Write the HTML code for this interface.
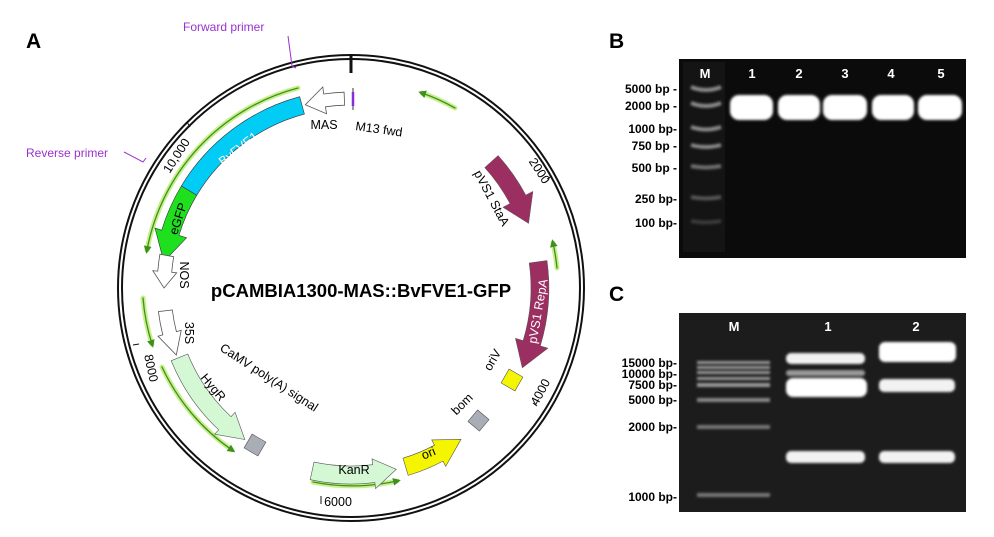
<!DOCTYPE html>
<html><head><meta charset="utf-8"><style>
html,body{margin:0;padding:0;background:#fff;}
svg{display:block;font-family:"Liberation Sans",sans-serif;}
</style></head><body>
<svg width="994" height="537" viewBox="0 0 994 537" xmlns="http://www.w3.org/2000/svg">
<defs>
<filter id="bl" x="-20%" y="-50%" width="140%" height="200%"><feGaussianBlur stdDeviation="2"/></filter>
<filter id="bl1" x="-20%" y="-50%" width="140%" height="200%"><feGaussianBlur stdDeviation="1.2"/></filter>
<marker id="ga" markerWidth="6" markerHeight="6" refX="3" refY="3" orient="auto"><path d="M0,0 L6,3 L0,6 Z" fill="#3f8f1f"/></marker>
</defs>
<rect width="994" height="537" fill="#fff"/>
<text x="26" y="48" font-size="21" font-weight="bold">A</text>
<text x="609" y="48" font-size="21" font-weight="bold">B</text>
<text x="609" y="301" font-size="21" font-weight="bold">C</text>

<circle cx="351" cy="288" r="233" fill="none" stroke="#111" stroke-width="2"/>
<circle cx="351" cy="288" r="229" fill="none" stroke="#111" stroke-width="2"/>
<line x1="351" y1="56" x2="351" y2="73" stroke="#111" stroke-width="3"/>

<text x="183" y="31" font-size="12" fill="#9b30d0">Forward primer</text>
<path d="M288,36 L292,66 L296,68" fill="none" stroke="#9b30d0" stroke-width="1"/>
<text x="26" y="157" font-size="12" fill="#9b30d0">Reverse primer</text>
<path d="M124,152 L143,162 L146,158" fill="none" stroke="#9b30d0" stroke-width="1"/>

<g fill="none" stroke-linecap="round">
<g stroke="#c6f08a" stroke-width="5">
<path d="M298,88 A207,207 0 0 0 147,250"/>
<path d="M455,108 A207,207 0 0 0 422,93"/>
<path d="M557,268 A207,207 0 0 0 553,243"/>
<path d="M143,298 A207,207 0 0 0 152,344"/>
<path d="M162,367 A207,207 0 0 0 232,450"/>
<path d="M313,482 A207,207 0 0 0 397,481"/>
</g>
<g stroke="#3f8f1f" stroke-width="1.3" marker-end="url(#ga)">
<path d="M298,88 A207,207 0 0 0 147,250"/>
<path d="M455,108 A207,207 0 0 0 422,93"/>
<path d="M557,268 A207,207 0 0 0 553,243"/>
<path d="M143,298 A207,207 0 0 0 152,344"/>
<path d="M162,367 A207,207 0 0 0 232,450"/>
<path d="M313,482 A207,207 0 0 0 397,481"/>
</g>
</g>

<path d="M299.7,96.7 A198,198 0 0 0 181.3,186 L196.7,195.3 A180,180 0 0 1 304.4,114.1 Z" fill="#00ccf5" stroke="#333" stroke-width="0.6"/>
<path d="M181.3,186 A198,198 0 0 0 161.7,230.2 L155,228.1 L163.8,261.7 L186.6,237.8 L178.9,235.4 A180,180 0 0 1 196.7,195.3 Z" fill="#1fe01f" stroke="#333" stroke-width="0.6"/>
<path d="M344.1,92.2 A196,196 0 0 0 323.7,94 L322.8,87 L305.3,104.7 L326.5,113.7 L325.5,106.8 A183,183 0 0 1 344.6,105.2 Z" fill="#fff" stroke="#555" stroke-width="0.8"/>
<line x1="353" y1="88" x2="353" y2="110" stroke="#333" stroke-width="1"/>
<line x1="353" y1="92" x2="353" y2="106" stroke="#8a2be2" stroke-width="2.5"/>
<path d="M498.1,155.5 A198,198 0 0 1 525.8,195.1 L532.9,191.4 L528.6,223.4 L502.9,207.3 L510,203.6 A180,180 0 0 0 484.7,167.6 Z" fill="#9b2f62" stroke="#555" stroke-width="0.5"/>
<path d="M547,260.5 A198,198 0 0 1 540.3,345.9 L548,348.2 L522.3,367.9 L515.4,338.3 L523.1,340.6 A180,180 0 0 0 529.2,263 Z" fill="#9b2f62" stroke="#555" stroke-width="0.5"/>
<path d="M159.9,254.2 A194,194 0 0 0 157.8,271.1 L152.8,270.7 L164,288 L176.7,272.8 L171.7,272.3 A180,180 0 0 1 173.7,256.7 Z" fill="#fff" stroke="#555" stroke-width="0.8"/>
<path d="M158.4,311.6 A194,194 0 0 0 162.8,334.9 L158,336.2 L176.3,355 L181.2,330.3 L176.4,331.6 A180,180 0 0 1 172.3,310 Z" fill="#fff" stroke="#555" stroke-width="0.8"/>
<path d="M171.2,360.7 A194,194 0 0 0 218.7,429.8 L214.6,434.2 L244.8,439.5 L235.1,412.3 L231,416.7 A176,176 0 0 1 187.8,354 Z" fill="#d4f7d4" stroke="#555" stroke-width="0.6"/>
<path d="M310.2,479.7 A196,196 0 0 0 374.9,482.6 L375.6,488.6 L396.3,469.4 L372,458.8 L372.7,464.7 A178,178 0 0 1 314,462.1 Z" fill="#d4f7d4" stroke="#555" stroke-width="0.6"/>
<path d="M408.2,475.4 A196,196 0 0 0 443,461.1 L445.7,466.4 L461,439.3 L431.7,439.9 L434.5,445.2 A178,178 0 0 1 403,458.2 Z" fill="#f5f500" stroke="#555" stroke-width="0.6"/>
<rect x="504" y="372" width="16" height="16" fill="#f5f500" stroke="#555" stroke-width="0.6" transform="rotate(30 512 380)"/>
<rect x="471" y="413" width="15" height="15" fill="#a9adb5" stroke="#555" stroke-width="0.6" transform="rotate(40 478.5 420.5)"/>
<rect x="247" y="437" width="16" height="16" fill="#a9adb5" stroke="#555" stroke-width="0.6" transform="rotate(30 255 445)"/>

<g font-size="12.5">
<text fill="#fff" transform="translate(241,152) rotate(-38)" text-anchor="middle">BvFVE1</text>
<text transform="translate(182,220) rotate(-72)" text-anchor="middle">eGFP</text>
<text transform="translate(210,390) rotate(50)" text-anchor="middle">HygR</text>
<text x="354" y="474" text-anchor="middle">KanR</text>
<text transform="translate(430,457) rotate(-22)" text-anchor="middle">ori</text>
<text fill="#fff" transform="translate(542,312) rotate(-80)" text-anchor="middle">pVS1 RepA</text>
<text transform="translate(488,200) rotate(62)" text-anchor="middle">pVS1 StaA</text>
<text x="324" y="129" text-anchor="middle">MAS</text>
<text transform="translate(355,130) rotate(8)">M13 fwd</text>
<text transform="translate(180,275) rotate(90)" text-anchor="middle">NOS</text>
<text transform="translate(185,333) rotate(90)" text-anchor="middle">35S</text>
<text transform="translate(219,350) rotate(33)">CaMV poly(A) signal</text>
<text transform="translate(496,362) rotate(-60)" text-anchor="middle">oriV</text>
<text transform="translate(465,407) rotate(-45)" text-anchor="middle">bom</text>
<text transform="translate(180,158) rotate(-57)" text-anchor="middle">10,000</text>
<text transform="translate(536,173) rotate(57)" text-anchor="middle">2000</text>
<text transform="translate(544,394) rotate(-62)" text-anchor="middle">4000</text>
<text x="338" y="506" text-anchor="middle">6000</text>
<text transform="translate(147,369) rotate(78)" text-anchor="middle">8000</text>
</g>
<g stroke="#111" stroke-width="1">
<line x1="187" y1="122" x2="190" y2="127"/>
<line x1="547" y1="179" x2="552" y2="176"/>
<line x1="533" y1="403" x2="537" y2="406"/>
<line x1="321" y1="496" x2="321" y2="504"/>
<line x1="133" y1="345" x2="139" y2="344"/>
</g>
<text x="361" y="297" font-size="18.5" font-weight="bold" text-anchor="middle">pCAMBIA1300-MAS::BvFVE1-GFP</text>

<rect x="679" y="59" width="287" height="199" fill="#0b0b0b"/>
<rect x="683" y="62" width="42" height="190" fill="#141414"/>
<g font-size="13" font-weight="bold" fill="#fff" text-anchor="middle">
<text x="705" y="78">M</text><text x="752" y="78">1</text><text x="799" y="78">2</text><text x="845" y="78">3</text><text x="891" y="78">4</text><text x="941" y="78">5</text>
</g>
<g fill="none" stroke="#8a8a8a" stroke-width="4" filter="url(#bl1)">
<path d="M691,87 Q706,93 721,87"/>
<path d="M691,103 Q706,109 721,103"/>
<path d="M691,127 Q706,132 721,127"/>
<path d="M691,145 Q706,149 721,145"/>
<path d="M691,166 Q706,169 721,166" stroke="#707070"/>
<path d="M691,197 Q706,200 721,197" stroke="#555"/>
<path d="M691,221 Q706,224 721,221" stroke="#3a3a3a"/>
</g>
<g fill="#fff" filter="url(#bl1)">
<rect x="730" y="95" width="43" height="25" rx="9"/>
<rect x="778" y="95" width="42" height="25" rx="9"/>
<rect x="823" y="95" width="44" height="25" rx="9"/>
<rect x="872" y="95" width="42" height="25" rx="9"/>
<rect x="918" y="95" width="44" height="25" rx="9"/>
</g>
<g font-size="12" font-weight="bold" text-anchor="end">
<text x="677" y="93">5000 bp -</text>
<text x="677" y="110">2000 bp -</text>
<text x="677" y="133">1000 bp-</text>
<text x="677" y="150">750 bp -</text>
<text x="677" y="172">500 bp -</text>
<text x="677" y="203">250 bp-</text>
<text x="677" y="227">100 bp-</text>
</g>

<rect x="679" y="313" width="287" height="199" fill="#1c1c1c"/>
<g font-size="13" font-weight="bold" fill="#fff" text-anchor="middle">
<text x="734" y="331">M</text><text x="828" y="331">1</text><text x="916" y="331">2</text>
</g>
<g fill="#9a9a9a" filter="url(#bl1)">
<rect x="697" y="361" width="73" height="3"/>
<rect x="697" y="366" width="73" height="3"/>
<rect x="697" y="371" width="73" height="3"/>
<rect x="697" y="377" width="73" height="3"/>
<rect x="697" y="383" width="73" height="4"/>
<rect x="697" y="398" width="73" height="4" fill="#888"/>
<rect x="697" y="425" width="73" height="4" fill="#777"/>
<rect x="697" y="493" width="73" height="4" fill="#777"/>
</g>
<g fill="#f2f2f2" filter="url(#bl1)">
<rect x="786" y="353" width="79" height="11" rx="5"/>
<rect x="786" y="370" width="79" height="6" rx="3" fill="#999"/>
<rect x="786" y="378" width="81" height="19" rx="7" fill="#fff"/>
<rect x="786" y="451" width="79" height="12" rx="5"/>
<rect x="879" y="342" width="77" height="20" rx="6" fill="#fff"/>
<rect x="879" y="379" width="76" height="13" rx="5"/>
<rect x="879" y="451" width="76" height="12" rx="5"/>
</g>
<g font-size="12" font-weight="bold" text-anchor="end">
<text x="677" y="367">15000 bp-</text>
<text x="677" y="378">10000 bp-</text>
<text x="677" y="389">7500 bp-</text>
<text x="677" y="404">5000 bp-</text>
<text x="677" y="431">2000 bp-</text>
<text x="677" y="501">1000 bp-</text>
</g>
</svg>
</body></html>
